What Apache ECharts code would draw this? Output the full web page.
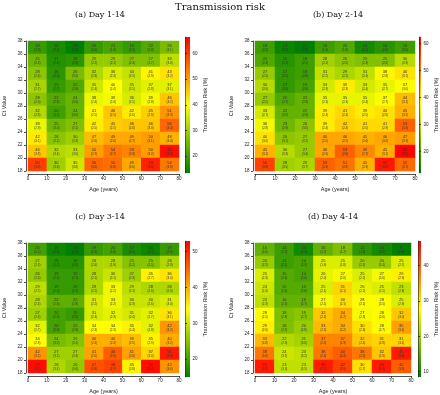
<!DOCTYPE html>
<html>
<head>
<meta charset="utf-8">
<script src="https://cdn.jsdelivr.net/npm/echarts@6/dist/echarts.min.js"></script>
<style>
html,body{margin:0;padding:0;background:#fff}
#main{width:440px;height:395px}
</style>
</head>
<body>
<div id="main"></div>
<script>
// age bands (columns) and Ct value rows, top row first
var ageBands = ['0-9', '10-19', '20-29', '30-39', '40-49', '50-59', '60-69', '70-79'];
var ctRows = [37, 35, 33, 31, 29, 27, 25, 23, 21, 19];

// transmission risk (%) per cell, rows from Ct 37 down to Ct 19
var riskA = [
  [19, 16, 13, 19, 21, 19, 22, 26],
  [25, 17, 18, 29, 29, 27, 27, 33],
  [28, 18, 26, 32, 36, 34, 41, 43],
  [31, 19, 22, 35, 40, 35, 37, 37],
  [28, 22, 24, 38, 39, 36, 39, 46],
  [32, 20, 24, 41, 46, 42, 45, 51],
  [38, 25, 27, 42, 45, 46, 46, 56],
  [42, 28, 30, 47, 49, 49, 50, 48],
  [46, 32, 33, 50, 54, 53, 50, 65],
  [60, 30, 35, 56, 55, 49, 63, 54]
];
var riskB = [
  [18, 13, 12, 18, 20, 14, 16, 18],
  [20, 16, 18, 28, 26, 25, 25, 30],
  [27, 17, 18, 31, 29, 31, 38, 40],
  [30, 17, 19, 33, 39, 33, 35, 37],
  [27, 20, 22, 35, 35, 35, 37, 44],
  [33, 22, 22, 39, 41, 39, 40, 45],
  [36, 23, 26, 39, 42, 41, 41, 53],
  [40, 26, 27, 46, 46, 45, 46, 47],
  [45, 30, 27, 46, 53, 49, 45, 62],
  [56, 28, 29, 53, 51, 45, 60, 52]
];
var riskC = [
  [20, 16, 15, 19, 20, 17, 16, 19],
  [27, 18, 18, 28, 28, 25, 25, 28],
  [26, 19, 19, 28, 30, 27, 35, 36],
  [29, 19, 19, 28, 33, 29, 28, 28],
  [28, 22, 22, 31, 33, 30, 30, 31],
  [27, 20, 19, 31, 32, 31, 32, 36],
  [32, 20, 22, 34, 34, 35, 32, 42],
  [34, 24, 25, 40, 40, 39, 35, 40],
  [42, 27, 27, 41, 46, 41, 37, 51],
  [52, 28, 26, 47, 48, 35, 52, 42]
];
var riskD = [
  [16, 13, 10, 16, 18, 12, 10, 8],
  [20, 13, 14, 25, 25, 20, 20, 25],
  [25, 15, 14, 26, 27, 25, 27, 29],
  [24, 15, 15, 25, 31, 26, 25, 23],
  [23, 16, 16, 27, 30, 28, 28, 25],
  [28, 18, 19, 32, 34, 27, 28, 32],
  [29, 18, 20, 33, 34, 30, 28, 35],
  [33, 22, 21, 37, 37, 32, 31, 31],
  [38, 24, 23, 38, 40, 38, 32, 45],
  [45, 23, 23, 45, 42, 30, 45, 40]
];

// value shown in brackets under each risk
var seA = [
  [2.3, 2.6, 2.4, 2.0, 1.9, 2.2, 2.8, 3.1],
  [2.5, 2.4, 2.6, 2.2, 2.1, 2.4, 2.7, 3.0],
  [2.6, 2.6, 3.0, 2.3, 2.3, 2.5, 2.9, 3.2],
  [2.7, 2.7, 2.9, 2.4, 2.4, 2.5, 2.8, 3.1],
  [2.6, 2.8, 3.0, 2.4, 2.4, 2.5, 2.8, 3.2],
  [2.8, 3.1, 3.0, 2.5, 2.5, 2.6, 2.9, 3.3],
  [2.9, 3.0, 3.1, 2.5, 2.5, 2.6, 3.0, 3.4],
  [3.1, 3.2, 3.3, 2.6, 2.6, 2.7, 3.1, 3.4],
  [3.3, 3.4, 3.5, 2.7, 2.7, 2.8, 3.2, 3.6],
  [3.9, 3.6, 3.8, 3.0, 2.9, 3.0, 3.6, 3.8]
];
var seB = [
  [2.2, 2.5, 2.3, 1.9, 1.8, 2.1, 2.6, 3.0],
  [2.4, 2.3, 2.5, 2.1, 2.0, 2.3, 2.6, 2.9],
  [2.5, 2.5, 2.8, 2.2, 2.2, 2.4, 2.8, 3.1],
  [2.6, 2.6, 2.8, 2.3, 2.3, 2.4, 2.7, 3.0],
  [2.5, 2.7, 2.9, 2.3, 2.3, 2.4, 2.7, 3.1],
  [2.7, 3.0, 2.9, 2.4, 2.4, 2.5, 2.8, 3.2],
  [2.8, 2.9, 3.0, 2.4, 2.4, 2.5, 2.9, 3.3],
  [3.0, 3.1, 3.2, 2.5, 2.5, 2.6, 3.0, 3.3],
  [3.2, 3.3, 3.4, 2.6, 2.6, 2.7, 3.1, 3.5],
  [3.8, 3.5, 3.7, 2.9, 2.8, 2.9, 3.5, 3.7]
];
var seC = [
  [2.1, 2.4, 2.2, 1.8, 1.8, 2.0, 2.5, 2.9],
  [2.3, 2.2, 2.4, 2.0, 1.9, 2.2, 2.5, 2.8],
  [2.4, 2.4, 2.7, 2.1, 2.1, 2.3, 2.7, 3.0],
  [2.5, 2.5, 2.7, 2.2, 2.2, 2.3, 2.6, 2.9],
  [2.4, 2.6, 2.8, 2.2, 2.2, 2.3, 2.6, 3.0],
  [2.6, 2.9, 2.8, 2.3, 2.3, 2.4, 2.7, 3.1],
  [2.7, 2.8, 2.9, 2.3, 2.3, 2.4, 2.8, 3.2],
  [2.9, 3.0, 3.1, 2.4, 2.4, 2.5, 2.9, 3.2],
  [3.1, 3.2, 3.3, 2.5, 2.5, 2.6, 3.0, 3.4],
  [3.7, 3.4, 3.6, 2.8, 2.7, 2.8, 3.4, 3.6]
];
var seD = [
  [2.0, 2.3, 2.1, 1.7, 1.7, 1.9, 2.4, 2.8],
  [2.2, 2.1, 2.3, 1.9, 1.8, 2.1, 2.4, 2.7],
  [2.3, 2.3, 2.6, 2.0, 2.0, 2.2, 2.6, 2.9],
  [2.4, 2.4, 2.6, 2.1, 2.1, 2.2, 2.5, 2.8],
  [2.3, 2.5, 2.7, 2.1, 2.1, 2.2, 2.5, 2.9],
  [2.5, 2.8, 2.7, 2.2, 2.2, 2.3, 2.6, 3.0],
  [2.6, 2.7, 2.8, 2.2, 2.2, 2.3, 2.7, 3.1],
  [2.8, 2.9, 3.0, 2.3, 2.3, 2.4, 2.8, 3.1],
  [3.0, 3.1, 3.2, 2.4, 2.4, 2.5, 2.9, 3.3],
  [3.6, 3.3, 3.5, 2.7, 2.6, 2.7, 3.3, 3.5]
];

// colour scale limits and colorbar ticks per panel
var rangeA = [13.4, 66.5], ticksA = [20, 30, 40, 50, 60];
var rangeB = [12, 62.5], ticksB = [20, 30, 40, 50, 60];
var rangeC = [15, 53], ticksC = [20, 30, 40, 50];
var rangeD = [8.5, 47], ticksD = [10, 20, 30, 40];

var ageTicks = [0, 80, 10];
var ctTicks = [18, 38, 2];

var palette = ['#008000', '#ffff00', '#ff0000'];

var panels = [
  {title: '(a) Day 1-14', risk: riskA, se: seA, range: rangeA, ticks: ticksA,
   box: [22, 41, 157, 130], cb: [185, 37, 136], tx: 100, ty: 15},
  {title: '(b) Day 2-14', risk: riskB, se: seB, range: rangeB, ticks: ticksB,
   box: [255, 41, 160, 130], cb: [419, 37, 136], tx: 338, ty: 15},
  {title: '(c) Day 3-14', risk: riskC, se: seC, range: rangeC, ticks: ticksC,
   box: [22, 243, 157, 130], cb: [185, 241, 136], tx: 100, ty: 217},
  {title: '(d) Day 4-14', risk: riskD, se: seD, range: rangeD, ticks: ticksD,
   box: [255, 243, 156, 130], cb: [418, 241, 136], tx: 333, ty: 217}
];

var labelFont = 'Liberation Sans';
var axisCol = '#222';

var grids = [], xAxes = [], yAxes = [], series = [], vms = [];
var graphics = [{
  type: 'text', x: 220, y: 7,
  style: {text: 'Transmission risk', font: '10px "DejaVu Serif"', fill: '#111',
          textAlign: 'center', textVerticalAlign: 'middle'}
}];

panels.forEach(function (p, i) {
  graphics.push({
    type: 'text', x: p.tx, y: p.ty,
    style: {text: p.title, font: '8px "DejaVu Serif"', fill: '#111',
            textAlign: 'center', textVerticalAlign: 'middle'}
  });

  // heatmap grid
  grids.push({left: p.box[0], top: p.box[1], width: p.box[2], height: p.box[3]});
  // colorbar grid
  grids.push({
    left: p.cb[0], top: p.cb[1], width: 5, height: p.cb[2], show: true, borderWidth: 0,
    backgroundColor: new echarts.graphic.LinearGradient(0, 1, 0, 0, [
      {offset: 0, color: palette[0]},
      {offset: 0.5, color: palette[1]},
      {offset: 1, color: palette[2]}
    ])
  });
  var g = 2 * i;

  xAxes.push({type: 'category', gridIndex: g, data: ageBands, show: false, position: 'bottom'});
  xAxes.push({
    type: 'value', gridIndex: g, position: 'bottom', offset: 3,
    min: ageTicks[0], max: ageTicks[1], interval: ageTicks[2],
    name: 'Age (years)', nameLocation: 'middle', nameGap: 12,
    nameTextStyle: {fontSize: 5.5, color: axisCol, fontFamily: labelFont},
    axisLine: {lineStyle: {color: axisCol, width: 0.8}},
    axisTick: {length: 2, lineStyle: {color: axisCol, width: 0.8}},
    axisLabel: {fontSize: 4.5, color: axisCol, margin: 2.5, fontFamily: labelFont},
    splitLine: {show: false}
  });
  xAxes.push({type: 'value', gridIndex: g + 1, show: false, min: 0, max: 1});

  yAxes.push({type: 'category', gridIndex: g, data: ctRows, inverse: true, show: false, position: 'left'});
  yAxes.push({
    type: 'value', gridIndex: g, position: 'left', offset: 2,
    min: ctTicks[0], max: ctTicks[1], interval: ctTicks[2],
    name: 'Ct Value', nameLocation: 'middle', nameGap: 19,
    nameTextStyle: {fontSize: 5.5, color: axisCol, fontFamily: labelFont},
    axisLine: {show: true, lineStyle: {color: axisCol, width: 0.8}},
    axisTick: {show: true, length: 2, lineStyle: {color: axisCol, width: 0.8}},
    axisLabel: {fontSize: 4.5, color: axisCol, margin: 3.5, fontFamily: labelFont},
    splitLine: {show: false}
  });
  yAxes.push({
    type: 'value', gridIndex: g + 1, position: 'right',
    min: p.range[0], max: p.range[1],
    name: 'Transmission Risk (%)', nameLocation: 'middle', nameGap: 12,
    nameTextStyle: {fontSize: 5.5, color: axisCol, fontFamily: labelFont},
    axisLine: {show: true, lineStyle: {color: axisCol, width: 0.6}},
    axisTick: {show: true, length: 2, customValues: p.ticks, lineStyle: {color: axisCol, width: 0.8}},
    axisLabel: {fontSize: 4.5, color: axisCol, margin: 2.5, customValues: p.ticks, fontFamily: labelFont},
    splitLine: {show: false}
  });

  var data = [];
  p.risk.forEach(function (row, r) {
    row.forEach(function (v, c) {
      data.push([c, r, v, p.se[r][c]]);
    });
  });

  series.push({
    type: 'heatmap',
    xAxisIndex: 3 * i,
    yAxisIndex: 3 * i,
    data: data,
    label: {
      show: true,
      formatter: function (prm) {
        return '{v|' + prm.data[2] + '}\n{s|(' + prm.data[3].toFixed(1) + ')}';
      },
      rich: {
        v: {fontSize: 4, color: '#333', fontFamily: labelFont, lineHeight: 5.5},
        s: {fontSize: 3, color: '#333', fontFamily: labelFont, lineHeight: 4}
      }
    },
    emphasis: {disabled: true}
  });

  vms.push({
    type: 'continuous', show: false, seriesIndex: i, dimension: 2,
    min: p.range[0], max: p.range[1],
    inRange: {color: palette}
  });
});

var chart = echarts.init(document.getElementById('main'), null, {renderer: 'canvas'});
chart.setOption({
  backgroundColor: '#fff',
  animation: false,
  grid: grids,
  xAxis: xAxes,
  yAxis: yAxes,
  visualMap: vms,
  series: series,
  graphic: graphics
});
</script>
</body>
</html>
